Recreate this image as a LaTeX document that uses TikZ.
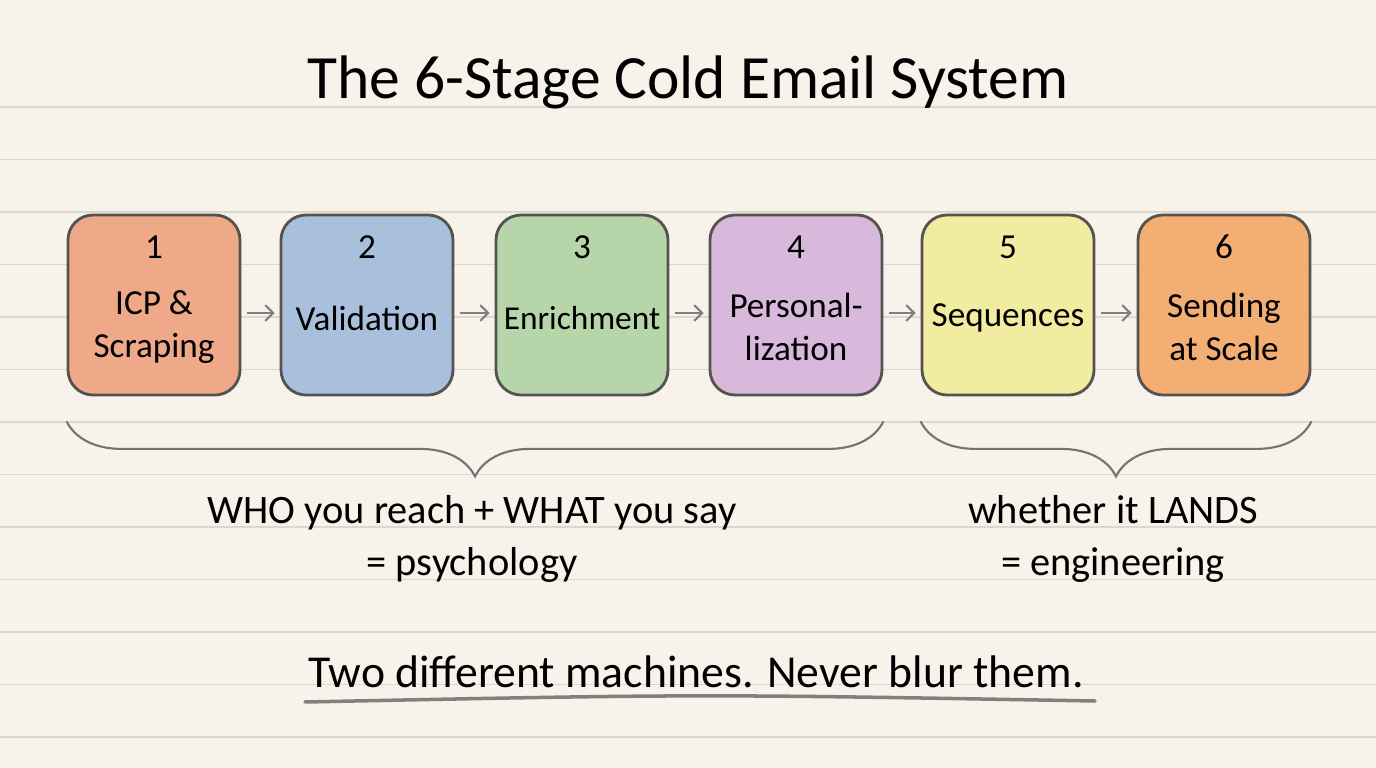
\documentclass[tikz,border=0pt]{standalone}
\usepackage{fontspec}
\setmainfont{Carlito}
\usetikzlibrary{decorations.pathreplacing,arrows.meta}
\definecolor{paper}{HTML}{F7F3EA}
\definecolor{rule}{HTML}{DCD8D0}
\definecolor{edge}{HTML}{555350}
\definecolor{cone}{HTML}{EFA888}
\definecolor{ctwo}{HTML}{A9C0DC}
\definecolor{cthree}{HTML}{B6D6A9}
\definecolor{cfour}{HTML}{D8B9DB}
\definecolor{cfive}{HTML}{F1EC9F}
\definecolor{csix}{HTML}{F3AE74}
\tikzset{
  stage/.style={draw=edge,line width=1.6pt,rounded corners=5mm,
    minimum width=34.4mm,minimum height=36mm},
  num/.style={font=\fontsize{20}{24}\selectfont},
  lbl/.style={align=center,font=\fontsize{20}{24.5}\selectfont},
  arr/.style={->,draw=gray,line width=1.2pt,shorten <=1.2mm,shorten >=1mm},
  brc/.style={decorate,decoration={brace,mirror,amplitude=11mm},
    draw=gray!90!black,line width=1.2pt},
  note/.style={align=center,font=\fontsize{23}{29.5}\selectfont}
}
\begin{document}
\begin{tikzpicture}[x=0.2mm,y=-0.2mm,>={Straight Barb[length=4.5pt,width=9pt]}]
% paper
\fill[paper] (0,0) rectangle (1376,768);
\useasboundingbox (0,0) rectangle (1376,768);
\foreach \k in {0,...,12}
  \draw[rule,line width=0.6pt] (0,107+52.5*\k) -- (1376,107+52.5*\k);

\node[font=\fontsize{35}{40}\selectfont] (title) at (688,82) {The 6-Stage Cold Email System};

% stages
\node[stage,fill=cone] (s1) at (154,305) {};
\node[stage,fill=ctwo] (s2) at (367,305) {};
\node[stage,fill=cthree] (s3) at (582,305) {};
\node[stage,fill=cfour] (s4) at (796,305) {};
\node[stage,fill=cfive] (s5) at (1008,305) {};
\node[stage,fill=csix] (s6) at (1224,305) {};

\node[num] (n1) at (154,247) {1};
\node[num] (n2) at (367,247) {2};
\node[num] (n3) at (582,247) {3};
\node[num] (n4) at (796,247) {4};
\node[num] (n5) at (1008,247) {5};
\node[num] (n6) at (1224,247) {6};

\node[lbl] (t1) at (154,327) {ICP \&\\Scraping};
\node[lbl] (t2) at (367,318) {Validation};
\node[lbl,font=\fontsize{19}{24}\selectfont] (t3) at (582,318) {Enrichment};
\node[lbl] (t4) at (796,327) {Personal-\\lization};
\node[lbl] (t5) at (1008,318) {Sequences};
\node[lbl] (t6) at (1224,327) {Sending\\at Scale};

\draw[arr] ([yshift=-1.6mm]s1.east) -- ([yshift=-1.6mm]s2.west);
\draw[arr] ([yshift=-1.6mm]s2.east) -- ([yshift=-1.6mm]s3.west);
\draw[arr] ([yshift=-1.6mm]s3.east) -- ([yshift=-1.6mm]s4.west);
\draw[arr] ([yshift=-1.6mm]s4.east) -- ([yshift=-1.6mm]s5.west);
\draw[arr] ([yshift=-1.6mm]s5.east) -- ([yshift=-1.6mm]s6.west);

% braces
\draw[brc] ([yshift=-5mm]s1.south west) -- ([yshift=-5mm]s4.south east);
\draw[brc] ([yshift=-5mm]s5.south west) -- ([yshift=-5mm]s6.south east);

\node[note] (psy) at (472,539) {WHO you reach + WHAT you say\\= psychology};
\node[note] (eng) at (1113,539) {whether it LANDS\\= engineering};

\node[font=\fontsize{26}{30}\selectfont] (tag) at (696,672) {Two different machines. Never blur them.};
\draw[gray,line width=2pt,line cap=round] (305,702) .. controls (700,694) .. (1095,701);
\end{tikzpicture}
\end{document}
